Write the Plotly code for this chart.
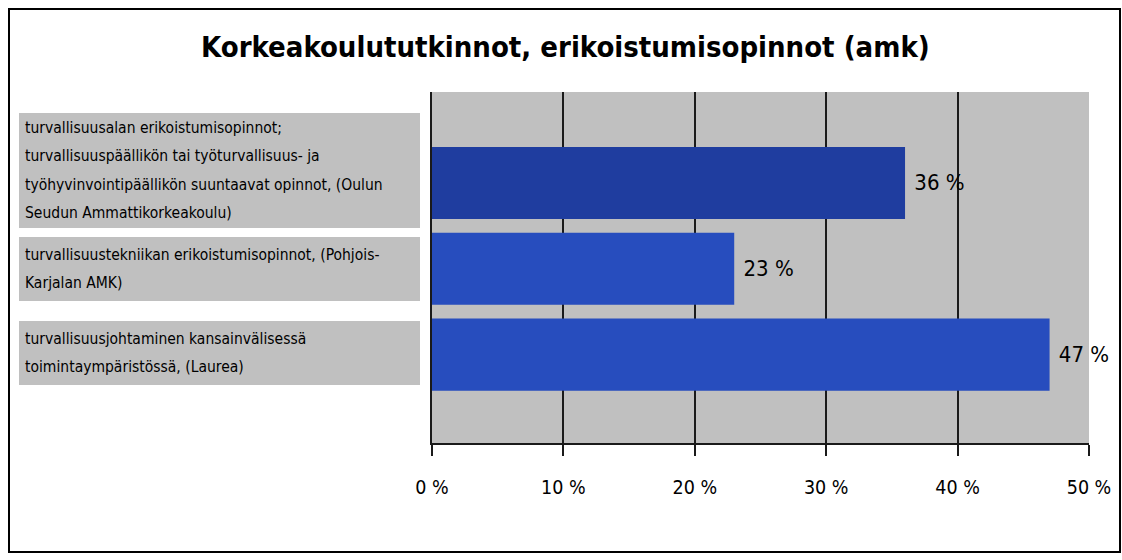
import plotly.graph_objects as go

title = "Korkeakoulututkinnot, erikoistumisopinnot (amk)"
categories = [
    ["turvallisuusalan erikoistumisopinnot;",
     "turvallisuuspäällikön tai työturvallisuus- ja",
     "työhyvinvointipäällikön suuntaavat opinnot, (Oulun",
     "Seudun Ammattikorkeakoulu)"],
    ["turvallisuustekniikan erikoistumisopinnot, (Pohjois-",
     "Karjalan AMK)"],
    ["turvallisuusjohtaminen kansainvälisessä",
     "toimintaympäristössä, (Laurea)"],
]
values = [36, 23, 47]
bar_colors = ["#1F3D9F", "#274DBE", "#274DBE"]
tick_vals = [0, 10, 20, 30, 40, 50]
tick_text = ["0 %", "10 %", "20 %", "30 %", "40 %", "50 %"]

FONT = "DejaVu Sans Condensed, Liberation Sans, Arial, sans-serif"

# plot-area pixel geometry
L, R, T, B = 432, 1089, 92, 443
W, H = R - L, B - T
def px(x): return (x - L) / W
def py(y): return (B - y) / H

pos = list(range(len(values)))

fig = go.Figure()
fig.add_trace(go.Bar(
    x=values, y=pos, orientation="h",
    marker=dict(color=bar_colors, line=dict(width=0)),
    width=0.84,
    text=[f"&nbsp;{v} %" for v in values], textposition="outside",
    textfont=dict(family=FONT, size=22, color="black"),
    cliponaxis=False, hoverinfo="skip",
))

shapes = []
annotations = []
# outer border
shapes.append(dict(type="rect", xref="paper", yref="paper",
                   x0=px(9), x1=px(1120), y0=py(9), y1=py(552),
                   line=dict(color="black", width=2), fillcolor="rgba(0,0,0,0)", layer="below"))
# label boxes
boxes = [(113, 228), (237, 301), (321, 385)]
line_step = 28.3
for (y0, y1), lines in zip(boxes, categories):
    shapes.append(dict(type="rect", xref="paper", yref="paper",
                       x0=px(19), x1=px(420), y0=py(y0), y1=py(y1),
                       line=dict(width=0), fillcolor="#C0C0C0", layer="below"))
    n = len(lines)
    mid = (y0 + y1) / 2
    for i, t in enumerate(lines):
        yc = mid + (i - (n - 1) / 2) * line_step
        annotations.append(dict(xref="paper", yref="paper", x=px(23), y=py(yc),
                                xanchor="left", yanchor="middle", text=t, showarrow=False,
                                font=dict(family=FONT, size=15.5, color="black")))

annotations.append(dict(xref="paper", yref="paper", x=px(565), y=py(47),
                        xanchor="center", yanchor="middle", text="<b>" + title + "</b>",
                        showarrow=False, font=dict(family=FONT, size=29, color="black")))

fig.update_layout(
    width=1122, height=560,
    margin=dict(l=L, r=1122 - R, t=T, b=560 - B),
    paper_bgcolor="white", plot_bgcolor="#C0C0C0",
    showlegend=False,
    shapes=shapes, annotations=annotations,
    xaxis=dict(range=[0, 50], tickvals=tick_vals, ticktext=tick_text,
               showgrid=True, gridcolor="#1a1a1a", gridwidth=1.5,
               showline=True, linecolor="#1a1a1a", linewidth=2,
               ticks="outside", ticklen=11, tickwidth=1.5, tickcolor="#1a1a1a",
               ticklabelstandoff=15,
               tickfont=dict(family=FONT, size=19.5, color="black"),
               zeroline=False, fixedrange=True),
    yaxis=dict(range=[3.03, -1.06], showticklabels=False, showgrid=False,
               showline=True, linecolor="#1a1a1a", linewidth=2,
               zeroline=False, ticks="", fixedrange=True),
)

fig.write_html("out.html", config={"displayModeBar": False},
               post_script="document.body.style.margin='0';document.body.style.overflow='hidden';")
